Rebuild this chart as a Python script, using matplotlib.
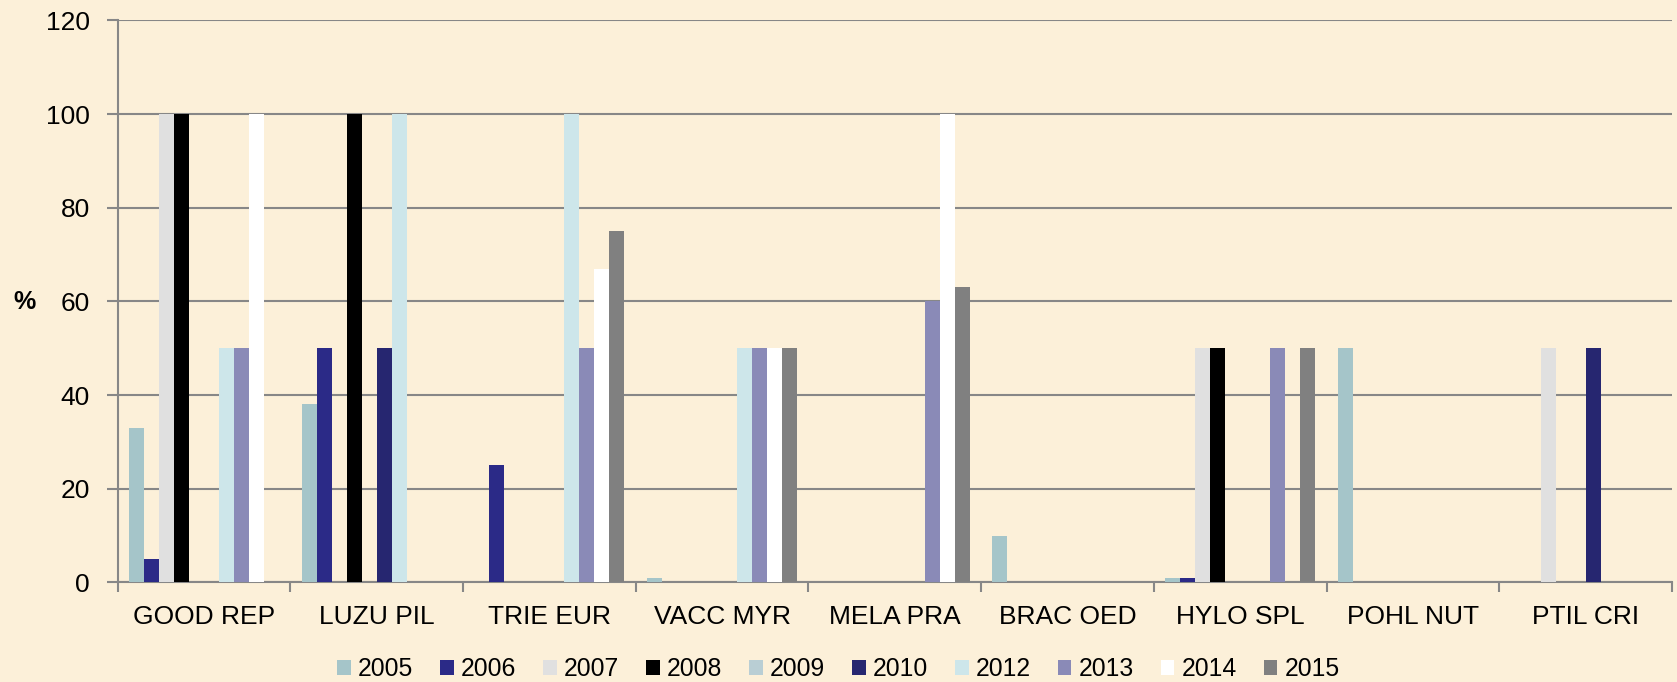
import numpy as np
import matplotlib
matplotlib.use("Agg")
import matplotlib.pyplot as plt
from matplotlib.patches import Patch

plt.rcParams['font.family'] = ['Liberation Sans', 'DejaVu Sans']

# species codes along the x axis
categories = ['GOOD REP', 'LUZU PIL', 'TRIE EUR', 'VACC MYR', 'MELA PRA',
              'BRAC OED', 'HYLO SPL', 'POHL NUT', 'PTIL CRI']
years = ['2005', '2006', '2007', '2008', '2009', '2010', '2012', '2013', '2014', '2015']

# percentage per year, one value per category
v2005 = [33, 38, 0, 1, 0, 10, 1, 50, 0]
v2006 = [5, 50, 25, 0, 0, 0, 1, 0, 0]
v2007 = [100, 0, 0, 0, 0, 0, 50, 0, 50]
v2008 = [100, 100, 0, 0, 0, 0, 50, 0, 0]
v2009 = [0, 0, 0, 0, 0, 0, 0, 0, 0]
v2010 = [0, 50, 0, 0, 0, 0, 0, 0, 50]
v2012 = [50, 100, 100, 50, 0, 0, 0, 0, 0]
v2013 = [50, 0, 50, 50, 60, 0, 50, 0, 0]
v2014 = [100, 0, 67, 50, 100, 0, 0, 0, 0]
v2015 = [0, 0, 75, 50, 63, 0, 50, 0, 0]
series = [v2005, v2006, v2007, v2008, v2009, v2010, v2012, v2013, v2014, v2015]

colors = ['#A5C5C9', '#2B2A87', '#E0E0E0', '#000000', '#B9CED4',
          '#262670', '#CDE6EA', '#8A8AB7', '#FFFFFF', '#808080']
bg = '#FCF0D9'
grid_col = '#878787'

fig = plt.figure(figsize=(16.77, 6.82), dpi=100, facecolor=bg)
ax = fig.add_axes([0.0701, 0.1459, 0.9269, 0.8243])
ax.set_facecolor(bg)

n = len(series)
w = 1 / (n + 1.5)
x = np.arange(len(categories))
for i, (vals, c) in enumerate(zip(series, colors)):
    ax.bar(x - n * w / 2 + (i + 0.5) * w, vals, width=w, color=c,
           label=years[i], zorder=3, linewidth=0)

ax.set_xlim(-0.5, len(categories) - 0.5)
ax.set_ylim(0, 120)
ax.set_yticks(np.arange(0, 121, 20))
ax.yaxis.grid(True, color=grid_col, linewidth=1.5, zorder=1)
ax.set_xticks(x)
ax.set_xticklabels(categories, fontsize=19)
ax.set_xticks(np.arange(-0.5, len(categories)), minor=True)
ax.tick_params(axis='x', which='major', length=0, pad=16)
ax.tick_params(axis='x', which='minor', length=7, width=1.5, color=grid_col)
ax.tick_params(axis='y', length=8, width=1.5, color=grid_col, pad=12, labelsize=19)

for s in ['top', 'right']:
    ax.spines[s].set_visible(False)
for s in ['left', 'bottom']:
    ax.spines[s].set_color(grid_col)
    ax.spines[s].set_linewidth(1.5)

fig.text(25 / 1677, 1 - 302 / 682, '%', fontsize=18, fontweight='bold',
         ha='center', va='center')

handles = [Patch(facecolor=c, edgecolor='none') for c in colors]
fig.legend(handles, years, loc='center', bbox_to_anchor=(0.5, 1 - 669 / 682),
           ncol=n, frameon=False, fontsize=17.8, handlelength=0.55,
           handleheight=0.55, handletextpad=0.3, columnspacing=1.08,
           borderaxespad=0, borderpad=0)

fig.savefig('out.png', dpi=100, facecolor=bg)
